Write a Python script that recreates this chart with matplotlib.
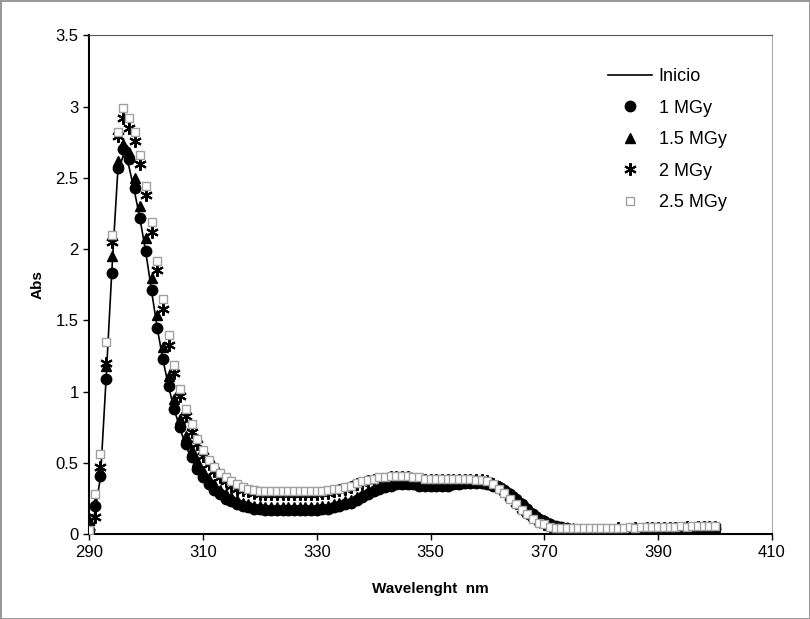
import numpy as np
import matplotlib
matplotlib.use('Agg')
import matplotlib.pyplot as plt
from matplotlib.ticker import FuncFormatter

plt.rcParams['font.family'] = ['Liberation Sans', 'DejaVu Sans']

wl = list(range(290, 401))

inicio = [0.02, 0.15, 0.40, 1.10, 1.85, 2.52, 2.66, 2.58, 2.40, 2.20,
          1.97, 1.70, 1.44, 1.22, 1.03, 0.87, 0.74, 0.62, 0.53, 0.45,
          0.39, 0.34, 0.30, 0.27, 0.24, 0.22, 0.20, 0.19, 0.18, 0.17,
          0.17, 0.16, 0.16, 0.16, 0.16, 0.16, 0.16, 0.16, 0.16, 0.16,
          0.16, 0.17, 0.17, 0.18, 0.19, 0.20, 0.21, 0.23, 0.25, 0.27,
          0.29, 0.31, 0.32, 0.33, 0.34, 0.34, 0.34, 0.34, 0.33, 0.33,
          0.33, 0.33, 0.33, 0.33, 0.34, 0.34, 0.35, 0.35, 0.35, 0.35,
          0.34, 0.33, 0.32, 0.30, 0.27, 0.24, 0.20, 0.17, 0.13, 0.10,
          0.08, 0.06, 0.05, 0.04, 0.03, 0.03, 0.02, 0.02, 0.02, 0.02,
          0.02, 0.02, 0.02, 0.02, 0.02, 0.02, 0.02, 0.02, 0.02, 0.02,
          0.02, 0.02, 0.02, 0.03, 0.03, 0.03, 0.03, 0.03, 0.03, 0.03,
          0.03]

mgy_1 = [0.03, 0.20, 0.41, 1.09, 1.83, 2.57, 2.70, 2.63, 2.43, 2.22,
         1.99, 1.71, 1.45, 1.23, 1.04, 0.88, 0.75, 0.63, 0.54, 0.46,
         0.40, 0.35, 0.31, 0.28, 0.25, 0.23, 0.21, 0.20, 0.19, 0.18,
         0.18, 0.17, 0.17, 0.17, 0.17, 0.17, 0.17, 0.17, 0.17, 0.17,
         0.17, 0.18, 0.18, 0.19, 0.20, 0.21, 0.22, 0.24, 0.26, 0.28,
         0.30, 0.32, 0.33, 0.34, 0.35, 0.35, 0.35, 0.35, 0.34, 0.34,
         0.34, 0.34, 0.34, 0.34, 0.35, 0.35, 0.36, 0.36, 0.36, 0.36,
         0.35, 0.34, 0.33, 0.31, 0.28, 0.25, 0.21, 0.18, 0.14, 0.11,
         0.09, 0.07, 0.06, 0.05, 0.04, 0.03, 0.03, 0.03, 0.02, 0.02,
         0.02, 0.02, 0.03, 0.02, 0.02, 0.03, 0.02, 0.02, 0.03, 0.03,
         0.03, 0.03, 0.03, 0.03, 0.03, 0.03, 0.03, 0.04, 0.04, 0.04,
         0.04]

mgy_15 = [0.10, 0.22, 0.44, 1.18, 1.95, 2.62, 2.74, 2.68, 2.50, 2.30,
          2.08, 1.80, 1.54, 1.31, 1.11, 0.95, 0.81, 0.69, 0.59, 0.51,
          0.44, 0.39, 0.35, 0.31, 0.28, 0.26, 0.24, 0.22, 0.21, 0.20,
          0.20, 0.19, 0.19, 0.19, 0.19, 0.19, 0.19, 0.19, 0.19, 0.19,
          0.19, 0.20, 0.20, 0.21, 0.22, 0.23, 0.24, 0.26, 0.28, 0.30,
          0.32, 0.34, 0.35, 0.36, 0.36, 0.37, 0.37, 0.36, 0.36, 0.35,
          0.35, 0.35, 0.35, 0.35, 0.36, 0.36, 0.37, 0.37, 0.37, 0.37,
          0.36, 0.35, 0.34, 0.32, 0.29, 0.26, 0.22, 0.19, 0.15, 0.12,
          0.10, 0.08, 0.06, 0.05, 0.04, 0.04, 0.03, 0.03, 0.03, 0.03,
          0.03, 0.03, 0.03, 0.03, 0.03, 0.03, 0.03, 0.03, 0.03, 0.03,
          0.03, 0.03, 0.04, 0.04, 0.04, 0.04, 0.04, 0.04, 0.04, 0.04,
          0.05]

mgy_2 = [0.05, 0.12, 0.47, 1.20, 2.05, 2.79, 2.92, 2.85, 2.76, 2.60,
         2.38, 2.12, 1.85, 1.58, 1.33, 1.13, 0.97, 0.83, 0.72, 0.63,
         0.55, 0.49, 0.44, 0.40, 0.37, 0.34, 0.32, 0.31, 0.30, 0.29,
         0.28, 0.28, 0.28, 0.28, 0.28, 0.28, 0.28, 0.28, 0.28, 0.28,
         0.28, 0.29, 0.29, 0.30, 0.31, 0.32, 0.33, 0.35, 0.36, 0.37,
         0.38, 0.39, 0.39, 0.40, 0.40, 0.40, 0.40, 0.39, 0.39, 0.38,
         0.38, 0.38, 0.38, 0.38, 0.38, 0.38, 0.38, 0.38, 0.38, 0.38,
         0.37, 0.35, 0.33, 0.30, 0.26, 0.22, 0.18, 0.15, 0.12, 0.09,
         0.07, 0.06, 0.05, 0.04, 0.03, 0.03, 0.03, 0.03, 0.03, 0.03,
         0.03, 0.03, 0.03, 0.04, 0.03, 0.03, 0.04, 0.03, 0.04, 0.04,
         0.04, 0.04, 0.04, 0.04, 0.04, 0.05, 0.04, 0.05, 0.05, 0.05,
         0.05]

mgy_25 = [0.03, 0.28, 0.56, 1.35, 2.10, 2.82, 2.99, 2.92, 2.82, 2.66,
          2.44, 2.19, 1.92, 1.65, 1.40, 1.19, 1.02, 0.88, 0.77, 0.67,
          0.59, 0.52, 0.47, 0.43, 0.40, 0.37, 0.35, 0.33, 0.32, 0.31,
          0.30, 0.30, 0.30, 0.30, 0.30, 0.30, 0.30, 0.30, 0.30, 0.30,
          0.30, 0.30, 0.31, 0.32, 0.32, 0.33, 0.34, 0.36, 0.37, 0.38,
          0.39, 0.40, 0.40, 0.41, 0.41, 0.41, 0.41, 0.40, 0.40, 0.39,
          0.39, 0.39, 0.39, 0.39, 0.39, 0.39, 0.39, 0.39, 0.38, 0.38,
          0.37, 0.35, 0.32, 0.29, 0.25, 0.21, 0.17, 0.14, 0.11, 0.08,
          0.07, 0.05, 0.04, 0.04, 0.04, 0.04, 0.04, 0.04, 0.04, 0.04,
          0.04, 0.04, 0.04, 0.04, 0.04, 0.05, 0.04, 0.05, 0.05, 0.05,
          0.05, 0.05, 0.05, 0.05, 0.06, 0.05, 0.06, 0.06, 0.06, 0.06,
          0.06]

fig = plt.figure(figsize=(8.1, 6.19), dpi=100)
fig.patch.set_edgecolor('#999999')
fig.patch.set_linewidth(2)
ax = fig.add_axes([0.110, 0.137, 0.843, 0.806])

ax.plot(wl, inicio, color='black', linewidth=1.2, label='Inicio', zorder=2)
ax.plot(wl, mgy_1, 'o', color='black', markersize=7.5, label='1 MGy', zorder=3)
ax.plot(wl, mgy_15, '^', color='black', markersize=7.5, label='1.5 MGy', zorder=3)
ax.plot(wl, mgy_2, marker=(6, 2, 0), linestyle='none', color='black',
        markersize=9, markeredgewidth=1.5, label='2 MGy', zorder=4)
ax.plot(wl, mgy_25, 's', markerfacecolor='white', markeredgecolor='#a0a0a0',
        markersize=6, markeredgewidth=1, label='2.5 MGy', zorder=4)

ax.set_xlim(290, 410)
ax.set_ylim(0, 3.5)
ax.set_xticks(range(290, 411, 20))
ax.set_yticks(np.arange(0, 3.51, 0.5))
ax.yaxis.set_major_formatter(FuncFormatter(lambda v, p: '{:g}'.format(v)))
ax.tick_params(direction='out', length=4, labelsize=12, width=1)

ax.spines['left'].set_linewidth(1.5)
ax.spines['bottom'].set_linewidth(1.5)
ax.spines['top'].set_color('#555555')
ax.spines['right'].set_color('#aaaaaa')

ax.set_xlabel('Wavelenght  nm', fontsize=11, fontweight='bold', labelpad=16)
ax.set_ylabel('Abs', fontsize=11, fontweight='bold', labelpad=8)

ax.legend(loc='upper left', bbox_to_anchor=(592 / 810, 1 - 52 / 619),
          bbox_transform=fig.transFigure, frameon=False, fontsize=13,
          handlelength=2.4, labelspacing=0.8, handletextpad=0.4)

fig.savefig('out.png', dpi=100)
